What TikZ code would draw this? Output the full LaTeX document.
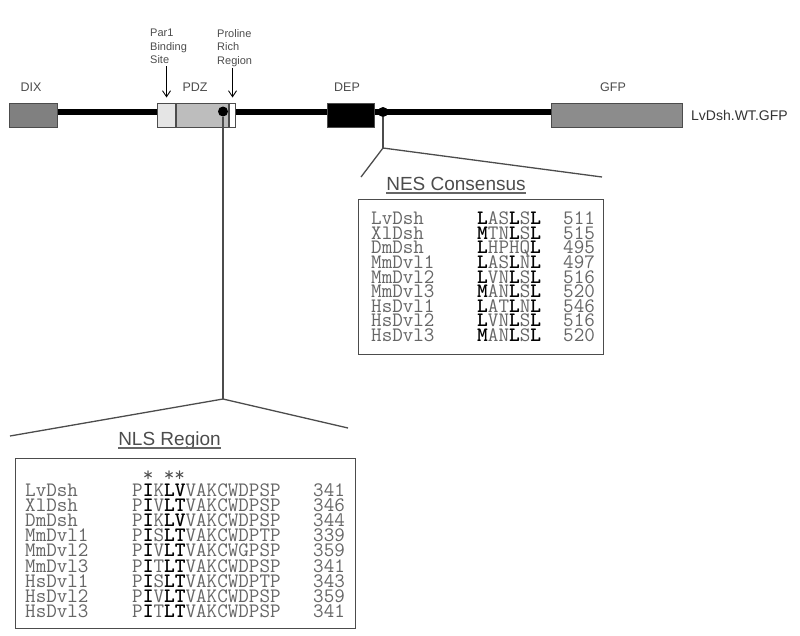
\documentclass[tikz,border=0pt]{standalone}
\usepackage{fontspec}
\setmainfont{Liberation Sans}
\usepackage{tikz}
\usetikzlibrary{arrows, arrows.meta, positioning}

\definecolor{domgray}{rgb}{0.5, 0.5, 0.5}
\definecolor{gfpgray}{rgb}{0.55, 0.55, 0.55}
\definecolor{pdzgray}{rgb}{0.74, 0.74, 0.74}
\definecolor{palegray}{rgb}{0.9, 0.9, 0.9}
\definecolor{seqgray}{rgb}{0.4, 0.4, 0.4}
\definecolor{textgray}{rgb}{0.3, 0.3, 0.3}

\newcommand{\cons}[1]{{\color{black}\bfseries #1}}
\newcommand{\lblsize}{\fontsize{12.5}{14}\selectfont}
\newcommand{\seqsize}{\fontsize{20.5}{15}\selectfont\ttfamily}

\begin{document}
\begin{tikzpicture}[x=1pt, y=-1pt, >={Straight Barb[length=6pt, width=8pt]},
		dom/.style={draw=black!70, line width=1pt, anchor=west, inner sep=0pt, minimum height=24pt},
		lbl/.style={font=\lblsize, text=textgray, inner sep=0pt},
		dot/.style={circle, fill=black, inner sep=0pt, minimum size=10pt},
		callout/.style={draw=black!70, line width=1.3pt},
		seq/.style={font=\seqsize, text=seqgray, anchor=base west, inner sep=0pt},
		title/.style={font=\fontsize{19}{20}\selectfont, text=textgray, inner sep=0pt, anchor=base},
		panel/.style={draw=black!70, line width=1.3pt, anchor=north west, inner sep=0pt}]
		\useasboundingbox (0,0) rectangle (800,635);
		
		% construct:
		\node[dom, fill=domgray, minimum width=48pt] (dix) at (9,115) {};
		\node[dom, fill=gfpgray, minimum width=131pt] (gfp) at (551,115) {};
		\draw[line width=6pt] ([yshift=3.5pt]dix.east) -- ([yshift=3.5pt]gfp.west);
		\node[dom, fill=palegray, minimum width=18pt] (par1) at (157,115) {};
		\node[dom, fill=pdzgray, minimum width=52pt] (pdz) at (par1.east) {};
		\node[dom, fill=white, minimum width=6pt] (prr) at (pdz.east) {};
		\node[dom, fill=black, minimum width=47pt] (dep) at (327,115) {};
		\node[dot] (nlsdot) at (223,111.5) {};
		\node[dot] (nesdot) at (383,112) {};
		\node[lbl, font=\fontsize{14}{16}\selectfont, text=black!80, right=8pt of gfp] (construct) {LvDsh.WT.GFP};
		
		% labels:
		\node[lbl] (dixlbl) at (31,87) {DIX};
		\node[lbl] (pdzlbl) at (195,87) {PDZ};
		\node[lbl] (deplbl) at (347,87) {DEP};
		\node[lbl] (gfplbl) at (613,87) {GFP};
		\node[lbl, font=\fontsize{11}{13.5}\selectfont, align=left, anchor=north west] (par1lbl) at (150,29) {Par1\\Binding\\Site};
		\node[lbl, font=\fontsize{11}{13.5}\selectfont, align=left, anchor=north west] (prrlbl) at (217,29) {Proline\\Rich\\Region};
		\draw[->, line width=0.9pt, shorten <=2pt, shorten >=5pt] (par1lbl.south -| par1.north) -- (par1.north);
		\draw[->, line width=0.9pt, shorten <=1pt, shorten >=5pt] (prrlbl.south -| prr.north) -- (prr.north);
		
		% NES callout
		\coordinate (nesfork) at (383,148);
		\coordinate (nesleft) at (361,177);
		\coordinate (nesright) at (602,177);
		\draw[callout] (nesdot) -- (nesfork);
		\draw[callout] (nesleft) -- (nesfork) -- (nesright);
		\node[title] (nestitle) at (456,190) {NES Consensus};
		\draw[seqgray, line width=1.2pt] ([yshift=-3pt]nestitle.base west) -- ([yshift=-3pt]nestitle.base east);
		\node[panel, minimum width=245pt, minimum height=155pt] (nesbox) at (358,199) {};
		\foreach \nm/\sq/\nb [count=\k from 0] in {
			LvDsh/{\cons{L}AS\cons{L}S\cons{L}}/511,
			XlDsh/{\cons{M}TN\cons{L}S\cons{L}}/515,
			DmDsh/{\cons{L}HPHQ\cons{L}}/495,
			MmDvl1/{\cons{L}AS\cons{L}N\cons{L}}/497,
			MmDvl2/{\cons{L}VN\cons{L}S\cons{L}}/516,
			MmDvl3/{\cons{M}AN\cons{L}S\cons{L}}/520,
			HsDvl1/{\cons{L}AT\cons{L}N\cons{L}}/546,
			HsDvl2/{\cons{L}VN\cons{L}S\cons{L}}/516,
			HsDvl3/{\cons{M}AN\cons{L}S\cons{L}}/520}{
			\node[seq] (nes-\k-name) at (371,{224.7+14.6*\k}) {\nm};
			\node[seq] (nes-\k-seq) at (477,{224.7+14.6*\k}) {\sq};
			\node[seq] (nes-\k-num) at (563,{224.7+14.6*\k}) {\nb};
		}
		
		% NLS callout
		\coordinate (nlsfork) at (223,399);
		\coordinate (nlsleft) at (10,436);
		\coordinate (nlsright) at (348,428);
		\draw[callout] (nlsdot) -- (nlsfork);
		\draw[callout] (nlsleft) -- (nlsfork) -- (nlsright);
		\node[title] (nlstitle) at (169.5,445) {NLS Region};
		\draw[seqgray, line width=1.2pt] ([yshift=-3pt]nlstitle.base west) -- ([yshift=-3pt]nlstitle.base east);
		\node[panel, minimum width=340pt, minimum height=170pt] (nlsbox) at (15,458) {};
		\node[seq, text=black!70] (stars) at (132,481) {\phantom{P}*\phantom{K}**};
		\foreach \nm/\sq/\nb [count=\k from 0] in {
			LvDsh/{P\cons{I}K\cons{LV}VAKCWDPSP}/341,
			XlDsh/{P\cons{I}V\cons{LT}VAKCWDPSP}/346,
			DmDsh/{P\cons{I}K\cons{LV}VAKCWDPSP}/344,
			MmDvl1/{P\cons{I}S\cons{LT}VAKCWDPTP}/339,
			MmDvl2/{P\cons{I}V\cons{LT}VAKCWGPSP}/359,
			MmDvl3/{P\cons{I}T\cons{LT}VAKCWDPSP}/341,
			HsDvl1/{P\cons{I}S\cons{LT}VAKCWDPTP}/343,
			HsDvl2/{P\cons{I}V\cons{LT}VAKCWDPSP}/359,
			HsDvl3/{P\cons{I}T\cons{LT}VAKCWDPSP}/341}{
			\node[seq] (nls-\k-name) at (25,{496.5+15.1*\k}) {\nm};
			\node[seq] (nls-\k-seq) at (132,{496.5+15.1*\k}) {\sq};
			\node[seq] (nls-\k-num) at (313,{496.5+15.1*\k}) {\nb};
		}
	\end{tikzpicture}
\end{document}
